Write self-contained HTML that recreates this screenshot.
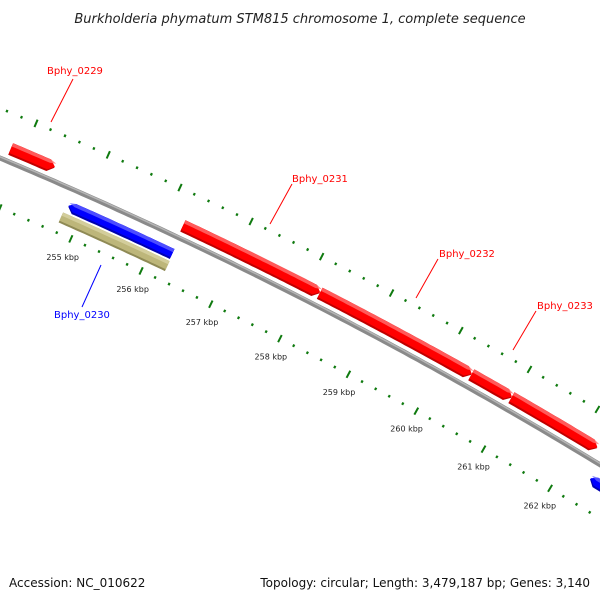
<!DOCTYPE html>
<html><head><meta charset="utf-8"><style>
html,body{margin:0;padding:0;background:#fff;}
svg{display:block;font-family:"DejaVu Sans","Liberation Sans",sans-serif;}
</style></head><body>
<svg id="map" width="600" height="600" viewBox="0 0 600 600" xmlns="http://www.w3.org/2000/svg">
<rect width="600" height="600" fill="#fff"/>
<text x="300" y="23" text-anchor="middle" font-size="13" font-style="italic" fill="#222">Burkholderia phymatum STM815 chromosome 1, complete sequence</text>
<g id="ticks"></g>
<g id="backbone"></g>
<g id="genes"></g>
<g id="labels"></g>
<text x="9" y="587" font-size="12" fill="#111">Accession: NC_010622</text>
<text x="590" y="587" text-anchor="end" font-size="12" fill="#111">Topology: circular; Length: 3,479,187 bp; Genes: 3,140</text>
</svg>
<script>
// data (kbp)
const geneNames = ["Bphy_0229","Bphy_0230","","Bphy_0231","Bphy_0232","Bphy_0233","","" ];
const geneStarts = [253.83, 254.80, 254.77, 256.24, 258.19, 260.39, 260.98, 262.38];
const geneEnds   = [254.44, 256.27, 256.28, 258.19, 260.39, 260.98, 262.25, 263.6];
const geneStrands = ["f","r","o","f","f","f","f","r"];
const tickStart = 252;
const tickEnd = 264;
const labelKbp = [255,256,257,258,259,260,261,262];

const NS="http://www.w3.org/2000/svg";
const CX=-1743, CY=4309, R0=4502;
const ANG0=-65.98, DEG_PER_KBP=0.993; // angle of 255 kbp
function ang(k){return (ANG0+(k-255)*DEG_PER_KBP)*Math.PI/180;}
function pt(k,r){const a=ang(k);return [CX+r*Math.cos(a),CY+r*Math.sin(a)];}
function mk(tag,attrs,parent){const e=document.createElementNS(NS,tag);for(const k in attrs)e.setAttribute(k,attrs[k]);parent.appendChild(e);return e;}

// backbone
const bb=document.getElementById('backbone');
let pts=[];for(let k=252;k<=264;k+=0.1)pts.push(pt(k,R0).map(v=>v.toFixed(1)).join(','));
const bl=mk('polyline',{points:pts.join(' '),fill:'none',stroke:'#8a8a8a','stroke-width':5},bb);


pts=[];for(let k=252;k<=264;k+=0.1)pts.push(pt(k,R0+1.2).map(v=>v.toFixed(1)).join(','));
const bh=mk('polyline',{points:pts.join(' '),fill:'none',stroke:'#b5b5b5','stroke-width':1.5},bb);



// ticks
const tg=document.getElementById('ticks');
for(let i=Math.round(tickStart*5);i<=Math.round(tickEnd*5);i++){
  const k=i/5, major=(i%5===0);
  [[4548],[4456]].forEach(([rc])=>{
    const h=major?4:1.3;
    const a=pt(k,rc-h),b=pt(k,rc+h);
    const l=mk('line',{x1:a[0],y1:a[1],x2:b[0],y2:b[1],stroke:'#0f7a0f','stroke-width':major?2:2.2},tg);
    
    
  });
}
labelKbp.forEach(k=>{
  const p=pt(k,4436);
  const t=mk('text',{x:p[0],y:p[1]+3,'text-anchor':'middle','font-size':8,fill:'#222'},tg);
  t.textContent=k+' kbp';
  
  
});

// genes
const gg=document.getElementById('genes');
const STY={f:{r:R0+12.5,w:12.5,c:'#ff0000',hi:'#ff7070',lo:'#c00000'},r:{r:R0-17.5,w:11,c:'#0000ff',hi:'#6060ff',lo:'#0000b0'},o:{r:R0-30.5,w:11,c:'#bdb67a',hi:'#d8d3a4',lo:'#8f8a55'}};
function shape(s,e,r1,r2,dir){
  const A=0.08;const out=[];
  if(dir==='f'){
    const e2=Math.max(s,e-A);
    for(let k=s;k<=e2+1e-9;k+=0.05)out.push(pt(k,r2));out.push(pt(e2,r2));
    out.push(pt(e,(r1+r2)/2));
    for(let k=e2;k>=s-1e-9;k-=0.05)out.push(pt(k,r1));out.push(pt(s,r1));
  }else if(dir==='r'){
    const s2=Math.min(e,s+A);
    out.push(pt(s,(r1+r2)/2));
    for(let k=s2;k<=e+1e-9;k+=0.05)out.push(pt(k,r2));out.push(pt(e,r2));
    for(let k=e;k>=s2-1e-9;k-=0.05)out.push(pt(k,r1));out.push(pt(s2,r1));
  }else{
    for(let k=s;k<=e+1e-9;k+=0.05)out.push(pt(k,r2));out.push(pt(e,r2));
    for(let k=e;k>=s-1e-9;k-=0.05)out.push(pt(k,r1));out.push(pt(s,r1));
  }
  return out.map(p=>p[0].toFixed(1)+','+p[1].toFixed(1)).join(' ');
}
geneStarts.forEach((s,i)=>{
  const e=geneEnds[i], d=geneStrands[i], st=STY[d];
  const r1=st.r-st.w/2, r2=st.r+st.w/2;
  const g=mk('g',{},gg);
  
  
  mk('polygon',{points:shape(s,e,r1,r2,d),fill:st.lo},g);
  mk('polygon',{points:shape(s,e,r1+2,r2,d),fill:st.c},g);
  mk('polygon',{points:shape(s,e,r2-3.5,r2,d),fill:st.hi,opacity:0.8},g);
});

// labels
const lg=document.getElementById('labels');
const labelDefs=[
  ["Bphy_0229",'#ff0000',47,74,73,79,51,122],
  ["Bphy_0230",'#0000ff',54,318,82,307,101,265],
  ["Bphy_0231",'#ff0000',292,182,292,184,270,224],
  ["Bphy_0232",'#ff0000',439,257,438,259,416,298],
  ["Bphy_0233",'#ff0000',537,309,536,311,513,350]
];
labelDefs.forEach(d=>{
  const l=mk('line',{x1:d[4],y1:d[5],x2:d[6],y2:d[7],stroke:d[1],'stroke-width':1},lg);
  
  
  const t=mk('text',{x:d[2],y:d[3],'font-size':10,fill:d[1]},lg);
  t.textContent=d[0];
  
  
});
</script>
</body></html>
